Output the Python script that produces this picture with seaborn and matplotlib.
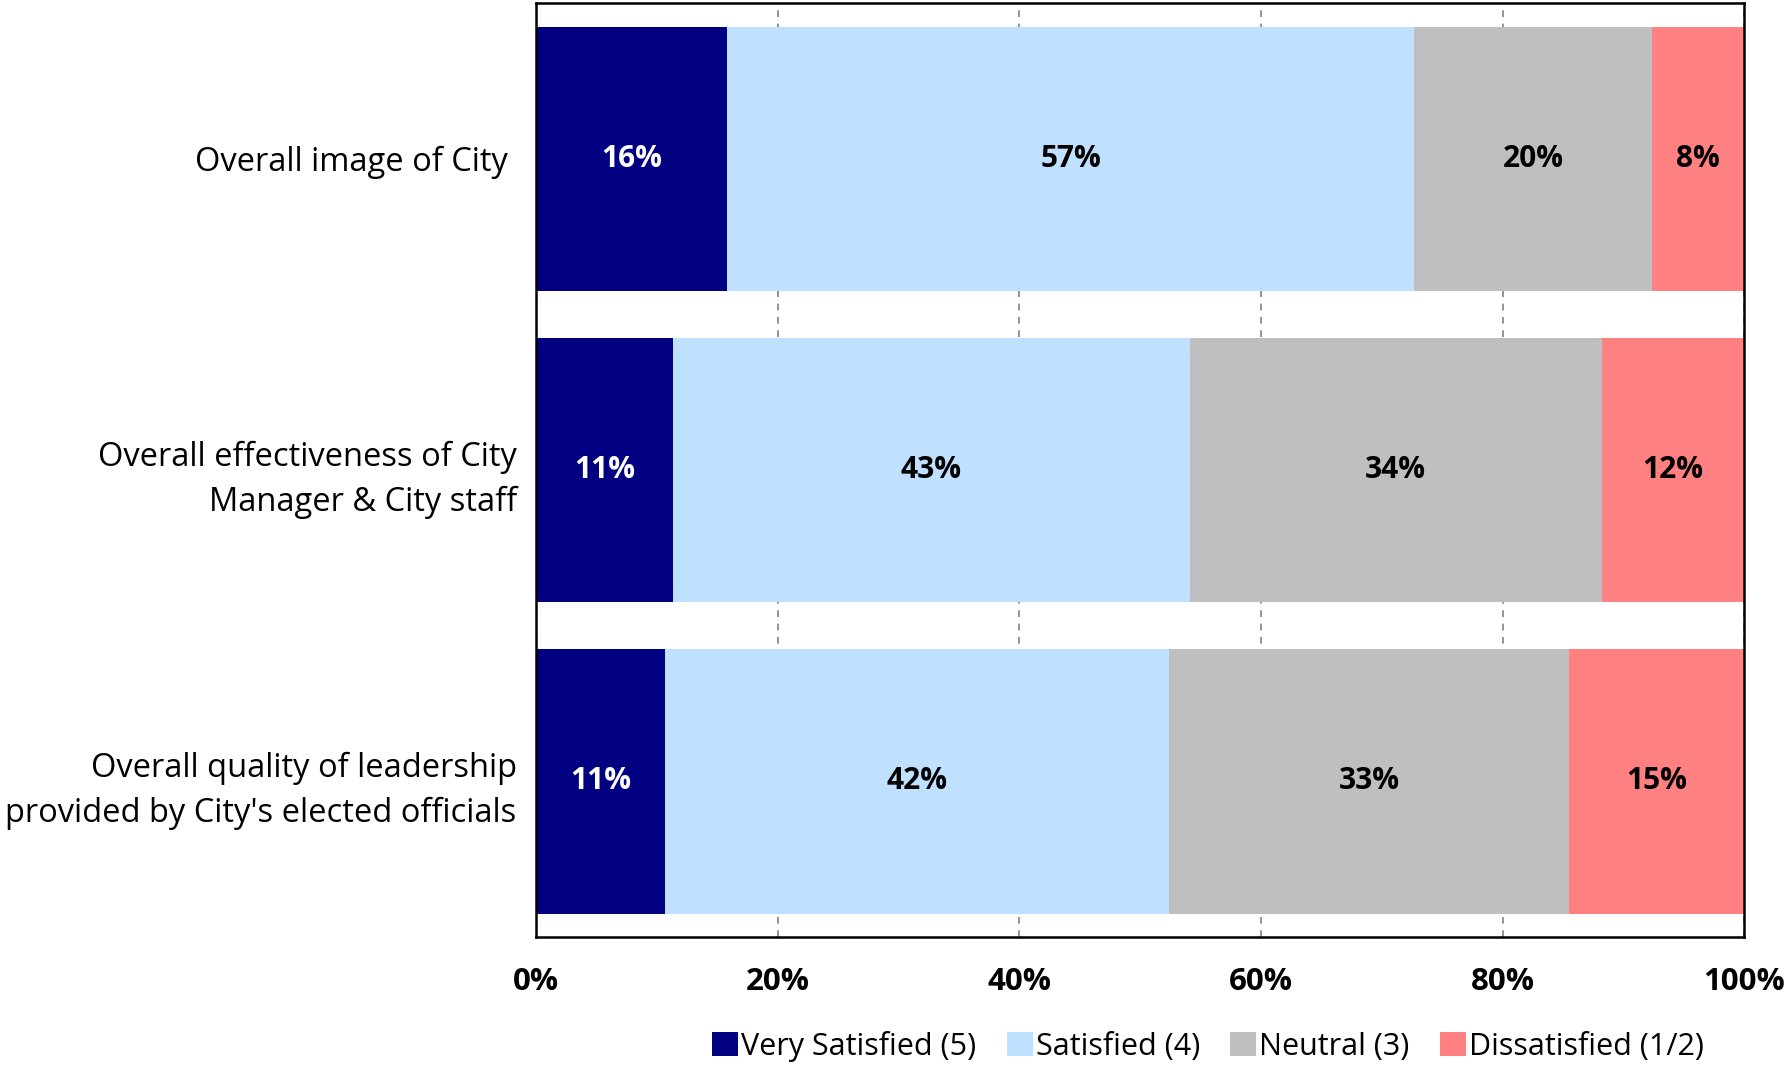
import pandas as pd
import matplotlib.pyplot as plt
import seaborn as sns
from matplotlib.patches import Patch

# Survey items and response shares (%)
items = ['Overall image of City ',
         'Overall effectiveness of City\nManager & City staff',
         "Overall quality of leadership\nprovided by City's elected officials"]
very_satisfied = [15.8, 11.3, 10.7]
satisfied = [56.9, 42.8, 41.7]
neutral = [19.7, 34.1, 33.1]
dissatisfied = [7.6, 11.8, 14.6]

series = ['Very Satisfied (5)', 'Satisfied (4)', 'Neutral (3)', 'Dissatisfied (1/2)']
colors = ['#000080', '#BFE1FF', '#BFBFBF', '#FF8080']
text_colors = ['white', 'black', 'black', 'black']

df = pd.DataFrame({'item': items,
                   series[0]: very_satisfied,
                   series[1]: satisfied,
                   series[2]: neutral,
                   series[3]: dissatisfied})

# cumulative totals so the stacked bars can be drawn back to front
cum = df[series].cumsum(axis=1)
starts = cum - df[series]

sns.set_style('white')
plt.rcParams['font.family'] = ['Open Sans', 'DejaVu Sans']
plt.rcParams['text.color'] = 'black'
plt.rcParams['xtick.color'] = 'black'
plt.rcParams['ytick.color'] = 'black'

fig = plt.figure(figsize=(17.87, 10.72), dpi=100)
ax = fig.add_axes([0.300, 0.126, 0.676, 0.871])

for s, c in reversed(list(zip(series, colors))):
    sns.barplot(x=cum[s], y=df['item'], orient='h', color=c, width=0.85,
                saturation=1, linewidth=0, edgecolor='none', ax=ax, zorder=2)

# value labels in the middle of each segment
for i in range(len(items)):
    for s, tc in zip(series, text_colors):
        mid = starts.loc[i, s] + df.loc[i, s] / 2
        ax.text(mid, i, f'{df.loc[i, s]:.0f}%', ha='center', va='center',
                color=tc, fontsize=21.5, fontweight='bold', zorder=3)

ax.set_xlim(0, 100)
ax.set_xticks([0, 20, 40, 60, 80, 100])
ax.set_xticklabels([f'{t}%' for t in [0, 20, 40, 60, 80, 100]],
                   fontsize=22.5, fontweight='bold')
ax.tick_params(axis='x', length=0, pad=22)
ax.tick_params(axis='y', length=0, pad=14, labelsize=23.5)
for lab in ax.get_yticklabels():
    lab.set_linespacing(1.45)
ax.set_xlabel('')
ax.set_ylabel('')
ax.grid(axis='x', color='#808080', linestyle=(0, (4, 4)), linewidth=1.2, zorder=0)
ax.set_axisbelow(True)
for sp in ax.spines.values():
    sp.set_visible(True)
    sp.set_color('black')
    sp.set_linewidth(1.8)

handles = [Patch(facecolor=c, edgecolor='none') for c in colors]
fig.legend(handles, series, loc='lower center', bbox_to_anchor=(0.676, -0.016),
           ncol=4, frameon=False, fontsize=22, handlelength=0.85,
           handleheight=0.85, handletextpad=0.1, columnspacing=1.0)

fig.savefig('out.png', dpi=100)
